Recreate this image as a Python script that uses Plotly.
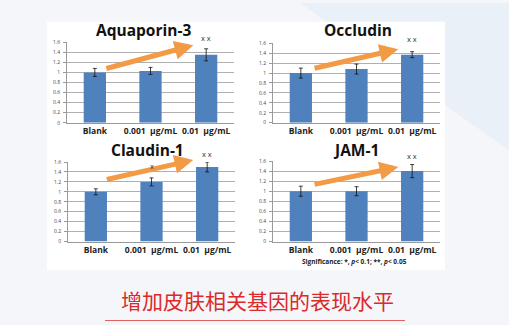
import plotly.graph_objects as go

W, H = 509, 325

categories = ["Blank", "0.001&nbsp;&nbsp;μg/mL", "0.01&nbsp;&nbsp;μg/mL"]
titles = ["Aquaporin-3", "Occludin", "Claudin-1", "JAM-1"]
aqp3 = [1.00, 1.03, 1.35]
aqp3_err = [0.08, 0.07, 0.12]
occludin = [1.00, 1.08, 1.37]
occludin_err = [0.10, 0.10, 0.06]
claudin1 = [1.00, 1.20, 1.50]
claudin1_err = [0.06, 0.08, 0.10]
jam1 = [1.00, 1.00, 1.40]
jam1_err = [0.10, 0.09, 0.13]
y_ticks = [0, 0.2, 0.4, 0.6, 0.8, 1, 1.2, 1.4, 1.6]
y_tick_text = ["0", "0.2", "0.4", "0.6", "0.8", "1", "1.2", "1.4", "1.6"]

values = [aqp3, occludin, claudin1, jam1]
errors = [aqp3_err, occludin_err, claudin1_err, jam1_err]
# significance marks: (category index, label, pixel shift above 1.6)
marks = [
    [(2, "x x", 4)],
    [(2, "x x", 4)],
    [(1, "x", None), (2, "x x", 8)],
    [(2, "x x", 5)],
]
# arrows: tail (x, y) -> head (x, y) in data units
arrows = [
    ((0.18, 1.07), (1.77, 1.54)),
    ((0.22, 1.09), (1.75, 1.48)),
    ((0.17, 1.24), (1.75, 1.64)),
    ((0.22, 1.13), (1.75, 1.48)),
]

# pixel boxes of plot areas: (x0, x1, ytop, ybottom)
boxes = [(67, 234, 40, 122), (273, 440, 41, 122), (68, 235, 162, 243), (273, 440, 161, 243)]
title_pos = [(143, 28), (358, 28), (147, 150), (356, 150)]

fig = go.Figure()
x_idx = [0, 1, 2]
for i in range(4):
    n = "" if i == 0 else str(i + 1)
    fig.add_trace(go.Bar(
        x=x_idx, y=values[i], width=0.4,
        marker=dict(color="#4F81BD", line=dict(width=0)),
        error_y=dict(type="data", array=errors[i], color="#111111", thickness=0.8, width=2),
        xaxis="x" + n, yaxis="y" + n, showlegend=False,
    ))
    x0, x1, yt, yb = boxes[i]
    fig.layout["xaxis" + n] = dict(
        domain=[x0 / W, x1 / W], range=[-0.5, 2.5], anchor="y" + n,
        tickvals=x_idx, ticktext=["<b>%s</b>" % c for c in categories],
        tickfont=dict(size=8.5, color="#222222", family="Open Sans"),
        showgrid=False, zeroline=False, showline=True, linecolor="#9a9a9a", linewidth=1,
        ticks="", fixedrange=True,
    )
    fig.layout["yaxis" + n] = dict(
        domain=[1 - yb / H, 1 - yt / H], range=[0, 1.6], anchor="x" + n,
        tickvals=y_ticks, ticktext=y_tick_text,
        tickfont=dict(size=5, color="#444444", family="Open Sans"),
        showgrid=True, gridcolor="#b0b0b0", gridwidth=1, zeroline=False,
        showline=True, linecolor="#9a9a9a", linewidth=1,
        ticks="outside", ticklen=3, tickcolor="#9a9a9a", ticklabelstandoff=2,
    )
    tx, ty = title_pos[i]
    fig.add_annotation(x=tx / W, y=1 - ty / H, xref="paper", yref="paper",
                       text="<b>%s</b>" % titles[i], showarrow=False,
                       font=dict(size=15.5, color="#111111", family="Open Sans"),
                       xanchor="center", yanchor="middle")
    (tx0, ty0), (hx, hy) = arrows[i]
    fig.add_annotation(x=hx, y=hy, ax=tx0, ay=ty0, xref="x" + n, yref="y" + n,
                       axref="x" + n, ayref="y" + n, showarrow=True, text="",
                       arrowhead=2, arrowsize=0.75, arrowwidth=5, arrowcolor="#F29A46",
                       standoff=0, startstandoff=0)
    for (ci, lab, shift) in marks[i]:
        if shift is None:
            yv = values[i][ci] + errors[i][ci] + 0.1
            fig.add_annotation(x=ci, y=yv, xref="x" + n, yref="y" + n, text=lab,
                               showarrow=False, font=dict(size=7.5, color="#333333"),
                               yanchor="bottom")
        else:
            fig.add_annotation(x=ci, y=1.6, xref="x" + n, yref="y" + n, text=lab,
                               showarrow=False, font=dict(size=7.5, color="#333333"),
                               yshift=shift)

fig.add_annotation(x=354 / W, y=1 - 263 / H, xref="paper", yref="paper",
                   text="<b>Significance: *, <i>p</i>< 0.1; **, <i>p</i>< 0.05</b>",
                   showarrow=False, xanchor="center", yanchor="middle",
                   font=dict(size=6.5, color="#222222", family="Open Sans"))

fig.add_annotation(x=257 / W, y=1 - 303 / H, xref="paper", yref="paper",
                   text="增加皮肤相关基因的表现水平", showarrow=False,
                   xanchor="center", yanchor="middle",
                   font=dict(size=21, color="#DA2A2A", family="Noto Sans CJK SC"))

fig.add_shape(type="line", xref="paper", yref="paper", x0=105 / W, x1=405 / W,
              y0=1 - 323.5 / H, y1=1 - 323.5 / H, line=dict(color="#E06060", width=1))

# background decorations
fig.add_shape(type="path", xref="paper", yref="paper",
              path="M %f,1 L 1,1 L 1,%f Z" % (300 / W, 1 - 150 / H),
              fillcolor="#EAF0F7", line=dict(width=0), layer="below")
fig.add_shape(type="rect", xref="paper", yref="paper", x0=47 / W, x1=445 / W,
              y0=1 - 272 / H, y1=1 - 19 / H, fillcolor="white", line=dict(width=0), layer="below")

fig.update_layout(
    width=W, height=H, margin=dict(l=0, r=0, t=0, b=0),
    paper_bgcolor="#F4F6FA", plot_bgcolor="rgba(0,0,0,0)",
    bargap=0.6, showlegend=False,
)

fig.write_html("out.html")
